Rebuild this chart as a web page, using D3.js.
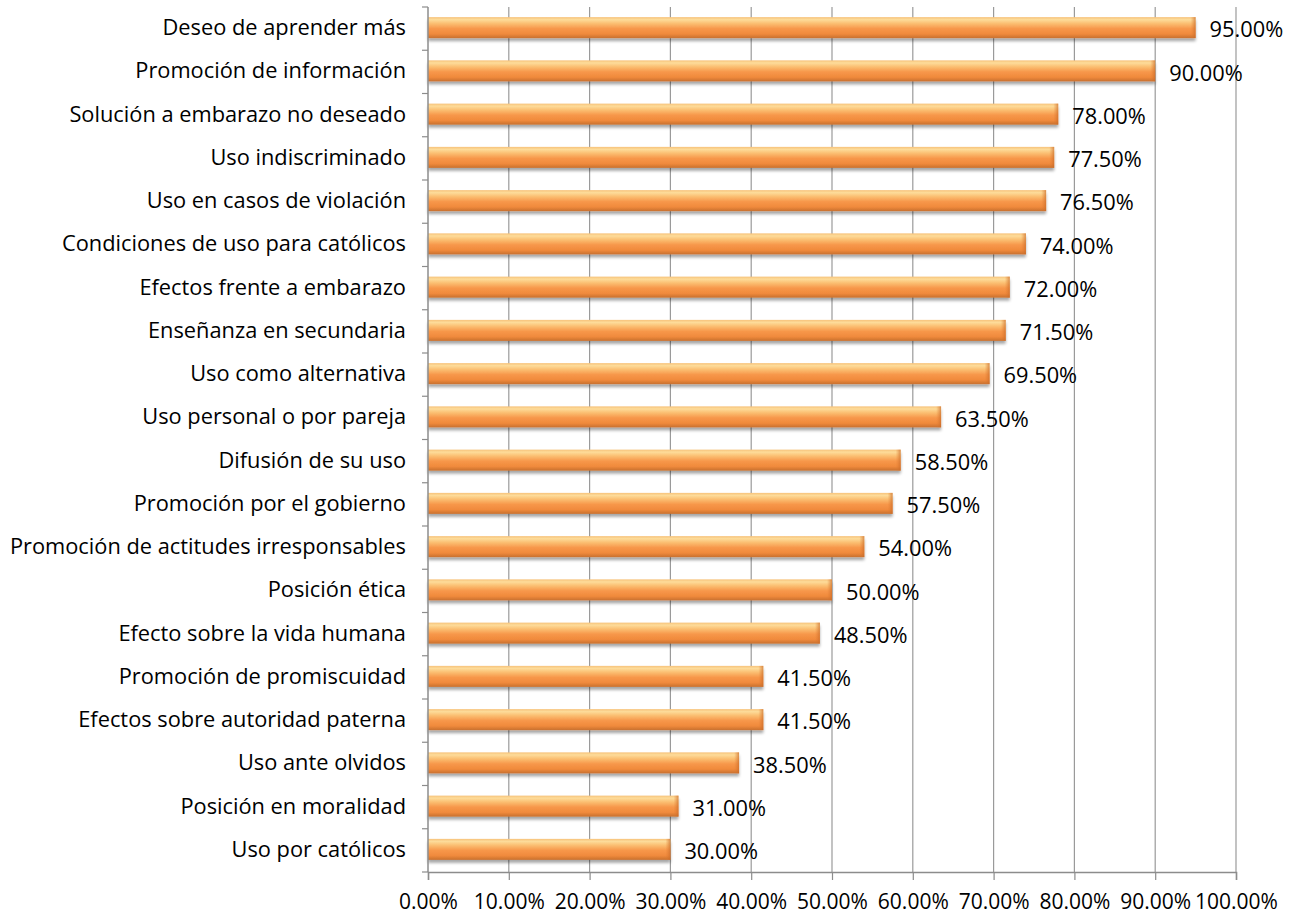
<!DOCTYPE html>
<html>
<head>
<meta charset="utf-8">
<script src="https://cdn.jsdelivr.net/npm/d3@7"></script>
<style>
  html, body { margin: 0; padding: 0; background: #ffffff; }
  svg text { font-family: "Open Sans", Lato, sans-serif; fill: #000; }
</style>
</head>
<body>
<svg id="chart" width="1298" height="915"></svg>
<script>
// Categories, top to bottom
const categories = [
  "Deseo de aprender más",
  "Promoción de información",
  "Solución a embarazo no deseado",
  "Uso indiscriminado",
  "Uso en casos de violación",
  "Condiciones de uso para católicos",
  "Efectos frente a embarazo",
  "Enseñanza en secundaria",
  "Uso como alternativa",
  "Uso personal o por pareja",
  "Difusión de su uso",
  "Promoción por el gobierno",
  "Promoción de actitudes irresponsables",
  "Posición ética",
  "Efecto sobre la vida humana",
  "Promoción de promiscuidad",
  "Efectos sobre autoridad paterna",
  "Uso ante olvidos",
  "Posición en moralidad",
  "Uso por católicos"
];

// Percentages for each category
const values = [95.0, 90.0, 78.0, 77.5, 76.5, 74.0, 72.0, 71.5, 69.5, 63.5,
                58.5, 57.5, 54.0, 50.0, 48.5, 41.5, 41.5, 38.5, 31.0, 30.0];

// X axis ticks
const xTicks = [0, 10, 20, 30, 40, 50, 60, 70, 80, 90, 100];

const svg = d3.select("#chart");
const margin = { left: 428, right: 62, top: 7, bottom: 43 };
const W = 1298, H = 915;
const labelSize = 21.8;
const valueSize = 21.8;
const tickSize = 21;

const x = d3.scaleLinear().domain([0, 100]).range([margin.left, W - margin.right]);
const yOuter = d3.scaleBand().domain(categories).range([margin.top, H - margin.bottom]);

const fmt = v => v.toFixed(2) + "%";

// Gradients for the bars
const defs = svg.append("defs");
const grad = defs.append("linearGradient").attr("id", "barGrad")
  .attr("x1", 0).attr("y1", 0).attr("x2", 0).attr("y2", 1);
[
  [0.00, "#f7c27a"],
  [0.12, "#fddc9a"],
  [0.30, "#fbbf72"],
  [0.55, "#f7974a"],
  [0.80, "#f08a3c"],
  [1.00, "#c8702e"]
].forEach(([o, c]) => grad.append("stop").attr("offset", o).attr("stop-color", c));

const shadow = defs.append("filter").attr("id", "barShadow")
  .attr("x", "-2%").attr("y", "-30%").attr("width", "104%").attr("height", "180%");
shadow.append("feGaussianBlur").attr("in", "SourceAlpha").attr("stdDeviation", 1.6).attr("result", "b");
shadow.append("feOffset").attr("dx", 0).attr("dy", 2.5).attr("result", "o");
shadow.append("feComponentTransfer").append("feFuncA").attr("type", "linear").attr("slope", 0.35);
const merge = shadow.append("feMerge");
merge.append("feMergeNode");
merge.append("feMergeNode").attr("in", "SourceGraphic");

const endGrad = defs.append("linearGradient").attr("id", "endGrad")
  .attr("x1", 0).attr("y1", 0).attr("x2", 1).attr("y2", 0);
endGrad.append("stop").attr("offset", 0).attr("stop-color", "#e07a30").attr("stop-opacity", 0);
endGrad.append("stop").attr("offset", 1).attr("stop-color", "#c86a28").attr("stop-opacity", 0.7);

// Vertical gridlines
svg.append("g").selectAll("line").data(xTicks.slice(1)).join("line")
  .attr("x1", d => x(d)).attr("x2", d => x(d))
  .attr("y1", margin.top).attr("y2", H - margin.bottom)
  .attr("stroke", "#9a9a9a").attr("stroke-width", 1.2);

// Bars
const bh = 21;
const bars = svg.append("g");
categories.forEach((c, i) => {
  const cy = yOuter(c) + yOuter.bandwidth() / 2;
  const g = bars.append("g");
  g.append("rect")
    .attr("x", x(0)).attr("y", cy - bh / 2 - 1)
    .attr("width", x(values[i]) - x(0)).attr("height", bh)
    .attr("fill", "url(#barGrad)")
    .attr("filter", "url(#barShadow)");
  g.append("rect")
    .attr("x", x(values[i]) - 5).attr("y", cy - bh / 2 - 1)
    .attr("width", 5).attr("height", bh)
    .attr("fill", "url(#endGrad)");
});

// Value labels
svg.append("g").selectAll("text").data(categories).join("text")
  .attr("x", (d, i) => x(values[i]) + 14)
  .attr("y", d => yOuter(d) + yOuter.bandwidth() / 2)
  .attr("dy", "0.4em")
  .attr("font-size", valueSize)
  .text((d, i) => fmt(values[i]));

// Y axis line and band ticks
const axisColor = "#8c8c8c";
svg.append("line")
  .attr("x1", x(0)).attr("x2", x(0))
  .attr("y1", margin.top).attr("y2", H - margin.bottom)
  .attr("stroke", axisColor).attr("stroke-width", 1.5);
const bounds = categories.map(c => yOuter(c)).concat([H - margin.bottom]);
svg.append("g").selectAll("line").data(bounds).join("line")
  .attr("x1", x(0) - 6).attr("x2", x(0))
  .attr("y1", d => d).attr("y2", d => d)
  .attr("stroke", axisColor).attr("stroke-width", 1.2);

// Category labels
svg.append("g").selectAll("text").data(categories).join("text")
  .attr("x", 406)
  .attr("y", d => yOuter(d) + yOuter.bandwidth() / 2)
  .attr("dy", "0.3em")
  .attr("text-anchor", "end")
  .attr("font-size", labelSize)
  .text(d => d);

// X axis
const xAxis = d3.axisBottom(x).tickValues(xTicks).tickSize(8).tickPadding(14)
  .tickFormat(d => d.toFixed(2) + "%");
const gx = svg.append("g").attr("transform", `translate(0,${H - margin.bottom})`).call(xAxis);
gx.select(".domain").attr("stroke", axisColor).attr("stroke-width", 1.5);
gx.selectAll(".tick line").attr("stroke", axisColor).attr("stroke-width", 1.2);
gx.selectAll(".tick text").attr("font-size", tickSize).attr("fill", "#000")
  .style("font-family", "'Open Sans', Lato, sans-serif");
</script>
</body>
</html>
